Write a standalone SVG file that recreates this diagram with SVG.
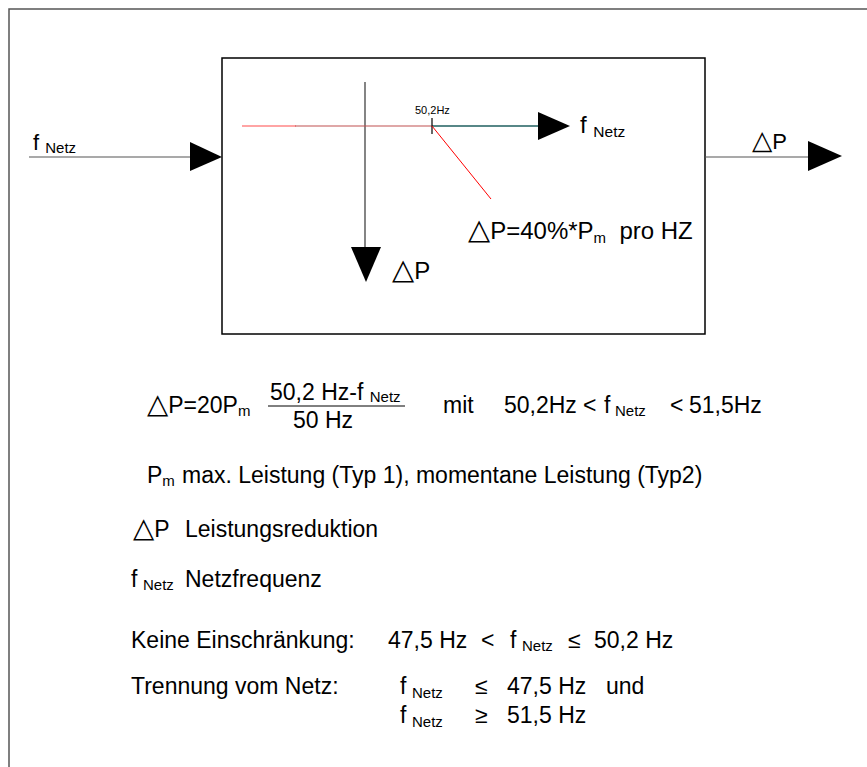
<svg xmlns="http://www.w3.org/2000/svg" width="867" height="767" viewBox="0 0 867 767">
<style>
text{font-family:"Liberation Sans",Arial,sans-serif;fill:#000}
.tr{font-family:"DejaVu Sans",sans-serif;font-size:120%}
.b{font-size:23px}
.m{font-size:24px}
.s{font-size:15px}
.frame{fill:none;stroke:#555;stroke-width:1.5}
.conn{stroke:#555;stroke-width:1.2;fill:none}
.head{fill:#000;stroke:none}
</style>
<rect x="0" y="0" width="867" height="767" fill="#fff"/>
<rect class="frame" x="9" y="9" width="900" height="800"/>

<g id="block">
  <rect x="222" y="58" width="483" height="276" fill="none" stroke="#000" stroke-width="1.5"/>
  <line x1="365" y1="82" x2="365" y2="248" stroke="#333" stroke-width="1.2"/>
  <polygon class="head" points="351,247 381,247 366,282"/>
  <line x1="242" y1="126" x2="296" y2="126" stroke="#ff4a4a" stroke-width="1.2"/>
  <line x1="295" y1="126" x2="432" y2="126" stroke="#c05050" stroke-width="1.2"/>
  <line x1="432" y1="126" x2="540" y2="126" stroke="#1f5f5f" stroke-width="1.5"/>
  <polygon class="head" points="538,112 538,140 570,126"/>
  <line x1="432" y1="118" x2="432" y2="134" stroke="#000" stroke-width="1.2"/>
  <line x1="432" y1="126" x2="491" y2="199" stroke="#ff0000" stroke-width="1"/>
  <text x="415" y="114" font-size="11">50,2Hz</text>
  <text x="580" y="133" class="m">f <tspan font-size="15.5" dy="4">Netz</tspan></text>
  <text x="468" y="239" class="m" xml:space="preserve"><tspan class="tr">△</tspan>P=40%*P<tspan font-size="15" dy="4">m</tspan><tspan dy="-4">  pro HZ</tspan></text>
  <text x="392" y="279" class="m"><tspan class="tr">△</tspan>P</text>
</g>

<g id="connectors">
  <line class="conn" x1="29" y1="157" x2="192" y2="157"/>
  <polygon class="head" points="190,142 190,171 222,157"/>
  <line class="conn" x1="705" y1="157" x2="810" y2="157"/>
  <polygon class="head" points="808,141 808,171 842,156"/>
</g>

<g id="input-label">
  <text x="33" y="150" font-size="22">f <tspan class="s" dy="3">Netz</tspan></text>
</g>
<g id="output-label">
  <text x="752" y="149" font-size="22"><tspan class="tr">△</tspan>P</text>
</g>

<g id="formula">
  <text x="147" y="413" class="b"><tspan class="tr">△</tspan>P=20P<tspan class="s" dy="3">m</tspan></text>
  <text x="270" y="400" class="b">50,2 Hz-f <tspan class="s" dy="2">Netz</tspan></text>
  <line x1="268" y1="406" x2="405" y2="406" stroke="#000" stroke-width="1"/>
  <text x="293" y="428" class="b">50 Hz</text>
  <text x="443" y="413" class="b">mit</text>
  <text x="504" y="413" class="b">50,2Hz</text>
  <text x="583" y="413" class="b">&lt;</text>
  <text x="604" y="413" class="b">f</text>
  <text x="615" y="416" class="s">Netz</text>
  <text x="670" y="413" class="b">&lt;</text>
  <text x="689" y="413" class="b">51,5Hz</text>
</g>

<g id="legend">
  <text x="147" y="483" class="b">P<tspan class="s" dy="3">m</tspan></text>
  <text x="182" y="483" class="b">max. Leistung (Typ 1), momentane Leistung (Typ2)</text>
  <text x="133" y="537" class="b"><tspan class="tr">△</tspan>P</text>
  <text x="185" y="537" class="b">Leistungsreduktion</text>
  <text x="131" y="587" class="b">f</text>
  <text x="143" y="590" class="s">Netz</text>
  <text x="185" y="587" class="b">Netzfrequenz</text>
</g>

<g id="ranges">
  <text x="131" y="648" class="b">Keine Einschränkung:</text>
  <text x="388" y="648" class="b">47,5 Hz</text>
  <text x="481" y="648" class="b">&lt;</text>
  <text x="510" y="648" class="b">f</text>
  <text x="522" y="651" class="s">Netz</text>
  <text x="568" y="648" class="b">≤</text>
  <text x="594" y="648" class="b">50,2 Hz</text>
  <text x="131" y="694" class="b">Trennung vom Netz:</text>
  <text x="400" y="694" class="b">f</text>
  <text x="412" y="698" class="s">Netz</text>
  <text x="475" y="694" class="b">≤</text>
  <text x="507" y="694" class="b">47,5 Hz</text>
  <text x="606" y="694" class="b">und</text>
  <text x="400" y="723" class="b">f</text>
  <text x="412" y="727" class="s">Netz</text>
  <text x="475" y="723" class="b">≥</text>
  <text x="507" y="723" class="b">51,5 Hz</text>
</g>
</svg>
